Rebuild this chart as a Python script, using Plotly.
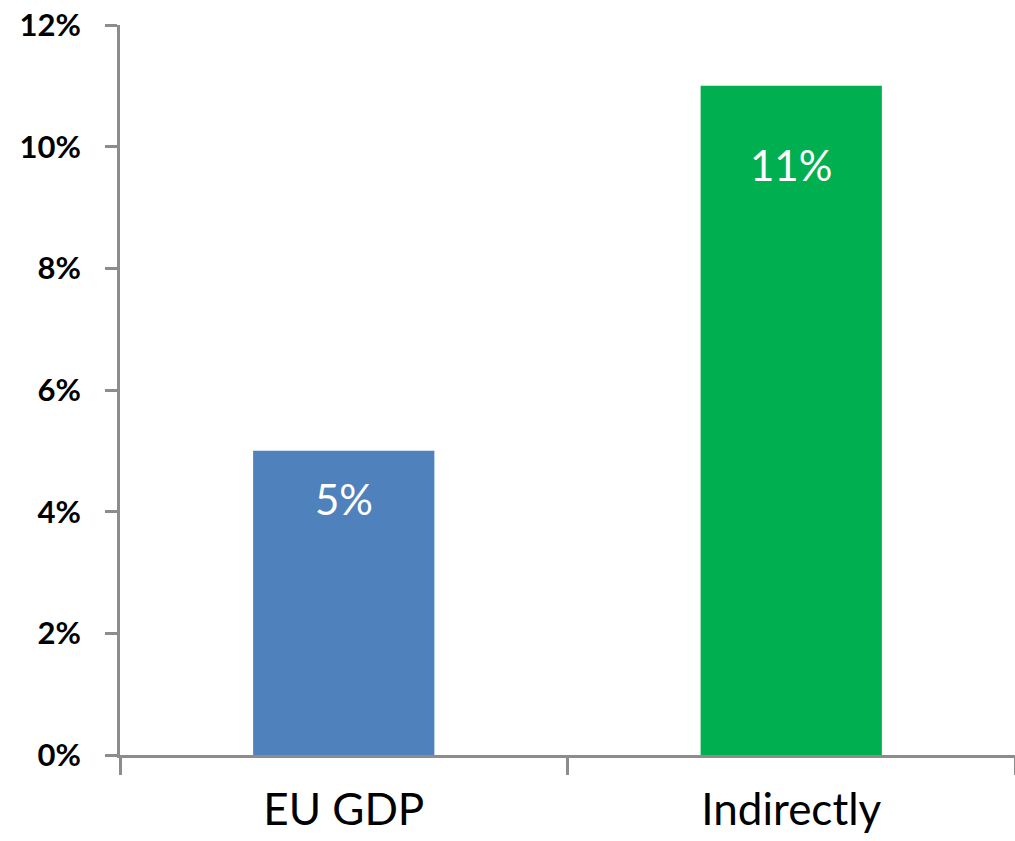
import plotly.graph_objects as go

categories = ["EU GDP", "Indirectly"]
values = [5, 11]
value_labels = ["5%", "11%"]
bar_colors = ["#4F81BD", "#00B050"]
y_ticks = [0, 2, 4, 6, 8, 10, 12]
y_tick_labels = ["0%", "2%", "4%", "6%", "8%", "10%", "12%"]

AXIS = "#8c8c8c"
FONT = "Lato, 'Open Sans', sans-serif"

fig = go.Figure()
fig.add_trace(go.Bar(
    x=categories, y=values,
    marker=dict(color=bar_colors, line=dict(width=0)),
    width=0.405,
    hoverinfo="skip",
))

label_shift = [-48, -79]
for c, v, t, s in zip(categories, values, value_labels, label_shift):
    fig.add_annotation(x=c, y=v, text=t, showarrow=False, yshift=s,
                       font=dict(family=FONT, size=42, color="white"))

fig.update_layout(
    width=1015, height=841,
    margin=dict(l=120, r=0, t=25, b=86),
    paper_bgcolor="white", plot_bgcolor="white",
    showlegend=False,
    xaxis=dict(
        type="category",
        tickson="boundaries",
        ticks="outside", ticklen=17, tickwidth=2.5, tickcolor=AXIS,
        showline=True, linecolor=AXIS, linewidth=3,
        showgrid=False, zeroline=False,
        tickfont=dict(family=FONT, size=44, color="black"),
        ticklabelstandoff=14,
    ),
    yaxis=dict(
        range=[0, 12],
        tickvals=y_ticks, ticktext=y_tick_labels,
        ticks="outside", ticklen=12, tickwidth=2.5, tickcolor=AXIS,
        showline=True, linecolor=AXIS, linewidth=3,
        showgrid=False, zeroline=False,
        tickfont=dict(family=FONT, size=31, color="black", weight="bold"),
        ticklabelstandoff=18,
    ),
)

fig.write_html("out.html")
